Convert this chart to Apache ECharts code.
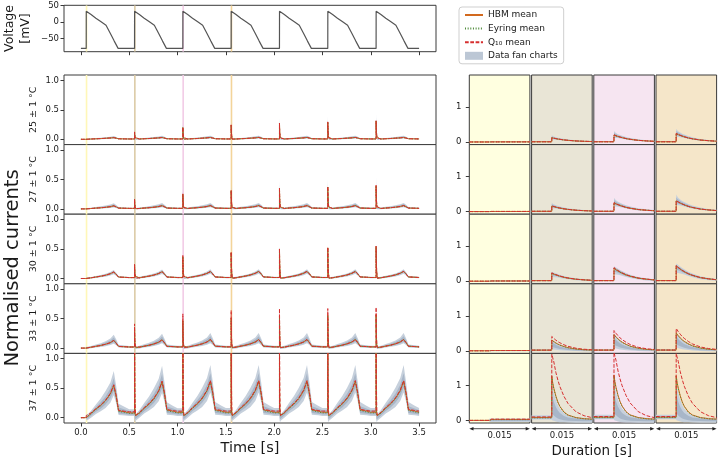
<!DOCTYPE html>
<html><head><meta charset="utf-8">
<script src="https://cdn.jsdelivr.net/npm/echarts@6/dist/echarts.min.js"></script>
<style>html,body{margin:0;padding:0;background:#fff}#c{width:720px;height:459px}</style>
</head><body><div id="c"></div>
<script>
// ================= DATA =================
const rowLabels = ['25 ± 1 °C', '27 ± 1 °C', '30 ± 1 °C', '33 ± 1 °C', '37 ± 1 °C'];
const upstrokes = [0.055, 0.555, 1.055, 1.555, 2.055, 2.555, 3.055];
const timeEnd = 3.5;
const windowPre = 0.005, windowPost = 0.010;
const windowLabels = ['0.015', '0.015', '0.015', '0.015'];
const timeTicks = [0, 0.5, 1, 1.5, 2, 2.5, 3, 3.5];
const leftYTicks = [0, 0.5, 1];
const rightYTicks = [0, 1];
const voltTicks = [-50, 0, 50];

// voltage protocol (one cycle, offsets from upstroke)
const voltOff = [0, 0.0005, 0.05, 0.1, 0.15, 0.205, 0.25, 0.29, 0.33, 0.445];
const voltVal = [-80, 32, 22, 11, 1, -10, -35, -58, -80, -80];

// offsets within one cycle (after the spike window) and inside the spike window
const cycOff = [0.012, 0.05, 0.1, 0.15, 0.2, 0.25, 0.285, 0.31, 0.335, 0.4, 0.445];
const rOff = [0, 0.0002, 0.0005, 0.001, 0.0015, 0.002, 0.003, 0.004, 0.006, 0.008, 0.010];

// ---- 25 C ----
const cycle25   = [0.003, 0.005, 0.009, 0.013, 0.018, 0.024, 0.030, 0.020, 0.009, 0.007, 0.006];
const outerHi25 = [0.012, 0.015, 0.022, 0.030, 0.038, 0.048, 0.060, 0.042, 0.020, 0.016, 0.014];
const outerLo25 = [-0.006, -0.004, -0.001, 0.002, 0.005, 0.009, 0.013, 0.008, 0.0, -0.001, -0.002];
const innerHi25 = [0.008, 0.011, 0.016, 0.022, 0.029, 0.037, 0.046, 0.032, 0.015, 0.012, 0.010];
const innerLo25 = [-0.002, 0.0, 0.003, 0.006, 0.010, 0.015, 0.020, 0.013, 0.004, 0.003, 0.002];
const peaks25   = [0.028, 0.030, 0.031, 0.031, 0.031, 0.031, 0.031];
const spikeH25  = [0.12, 0.20, 0.24, 0.27, 0.29, 0.31];
const spikeE25  = [0.12, 0.20, 0.24, 0.27, 0.29, 0.31];
const spikeQ25  = [0.125, 0.205, 0.245, 0.275, 0.295, 0.315];
// ---- 27 C ----
const cycle27   = [0.004, 0.007, 0.014, 0.020, 0.028, 0.040, 0.055, 0.036, 0.014, 0.011, 0.009];
const outerHi27 = [0.016, 0.022, 0.034, 0.046, 0.060, 0.078, 0.100, 0.070, 0.032, 0.026, 0.022];
const outerLo27 = [-0.008, -0.004, 0.001, 0.005, 0.010, 0.017, 0.026, 0.016, 0.001, -0.001, -0.003];
const innerHi27 = [0.011, 0.016, 0.026, 0.035, 0.046, 0.062, 0.080, 0.055, 0.024, 0.019, 0.016];
const innerLo27 = [-0.002, 0.001, 0.006, 0.011, 0.017, 0.026, 0.038, 0.024, 0.006, 0.004, 0.003];
const peaks27   = [0.052, 0.055, 0.056, 0.056, 0.056, 0.056, 0.056];
const spikeH27  = [0.16, 0.25, 0.31, 0.35, 0.37, 0.39];
const spikeE27  = [0.16, 0.25, 0.31, 0.35, 0.37, 0.39];
const spikeQ27  = [0.165, 0.255, 0.315, 0.36, 0.38, 0.40];
// ---- 30 C ----
const cycle30   = [0.006, 0.012, 0.026, 0.040, 0.058, 0.085, 0.115, 0.075, 0.025, 0.020, 0.016];
const outerHi30 = [0.020, 0.028, 0.045, 0.062, 0.083, 0.115, 0.152, 0.100, 0.042, 0.034, 0.028];
const outerLo30 = [-0.010, -0.002, 0.010, 0.020, 0.033, 0.053, 0.077, 0.050, 0.010, 0.007, 0.005];
const innerHi30 = [0.013, 0.021, 0.037, 0.052, 0.071, 0.100, 0.134, 0.088, 0.034, 0.027, 0.022];
const innerLo30 = [-0.002, 0.005, 0.018, 0.030, 0.045, 0.069, 0.096, 0.062, 0.017, 0.013, 0.010];
const peaks30   = [0.11, 0.115, 0.118, 0.12, 0.12, 0.12, 0.12];
const spikeH30  = [0.23, 0.37, 0.44, 0.50, 0.52, 0.54];
const spikeE30  = [0.23, 0.37, 0.44, 0.50, 0.52, 0.54];
const spikeQ30  = [0.24, 0.39, 0.45, 0.51, 0.53, 0.55];
// ---- 33 C ----
const cycle33   = [0.008, 0.016, 0.032, 0.048, 0.070, 0.100, 0.140, 0.090, 0.030, 0.025, 0.020];
const outerHi33 = [0.025, 0.038, 0.065, 0.090, 0.125, 0.175, 0.245, 0.160, 0.060, 0.048, 0.040];
const outerLo33 = [-0.015, -0.005, 0.010, 0.020, 0.035, 0.055, 0.080, 0.050, 0.010, 0.007, 0.005];
const innerHi33 = [0.016, 0.027, 0.050, 0.070, 0.100, 0.140, 0.195, 0.127, 0.045, 0.037, 0.031];
const innerLo33 = [-0.004, 0.005, 0.020, 0.033, 0.050, 0.074, 0.105, 0.068, 0.018, 0.014, 0.011];
const peaks33   = [0.13, 0.14, 0.145, 0.145, 0.145, 0.145, 0.145];
const spikeH33  = [0.31, 0.47, 0.51, 0.55, 0.56, 0.57];
const spikeE33  = [0.30, 0.46, 0.50, 0.54, 0.55, 0.56];
const spikeQ33  = [0.41, 0.58, 0.64, 0.67, 0.67, 0.69];
// ---- 37 C ----
const cycle37   = [0.030, 0.080, 0.160, 0.230, 0.320, 0.450, 0.610, 0.400, 0.130, 0.110, 0.090];
const cycleE37  = [0.025, 0.075, 0.155, 0.225, 0.315, 0.445, 0.600, 0.390, 0.120, 0.095, 0.080];
const cycleQ37  = [0.040, 0.090, 0.170, 0.240, 0.330, 0.460, 0.620, 0.420, 0.140, 0.120, 0.110];
const outerHi37 = [0.060, 0.130, 0.250, 0.360, 0.500, 0.660, 0.880, 0.600, 0.260, 0.200, 0.160];
const outerLo37 = [-0.050, 0.000, 0.070, 0.120, 0.180, 0.280, 0.420, 0.270, 0.050, 0.040, 0.030];
const innerHi37 = [0.035, 0.100, 0.200, 0.290, 0.400, 0.550, 0.740, 0.500, 0.190, 0.155, 0.125];
const innerLo37 = [-0.020, 0.035, 0.110, 0.170, 0.250, 0.360, 0.500, 0.330, 0.080, 0.065, 0.055];
const peaks37   = [0.55, 0.61, 0.62, 0.62, 0.62, 0.62, 0.62];
const spikeH37  = [1.27, 1.30, 1.28, 1.30, 1.30, 1.30];
const spikeE37  = [1.25, 1.28, 1.26, 1.28, 1.28, 1.28];
const spikeQ37  = [1.90, 1.95, 1.92, 1.95, 1.95, 1.95];

// decay of the spike inside the window (fraction of the peak above base)
const decaySlow = [1, 0.95, 0.88, 0.78, 0.69, 0.61, 0.47, 0.37, 0.22, 0.14, 0.08];
const decayH33  = [1, 0.93, 0.85, 0.72, 0.61, 0.52, 0.38, 0.27, 0.14, 0.07, 0.04];
const decayQ33  = [1, 0.94, 0.86, 0.74, 0.63, 0.55, 0.41, 0.30, 0.16, 0.09, 0.05];
const decayH37  = [1, 0.86, 0.72, 0.54, 0.40, 0.30, 0.17, 0.10, 0.04, 0.015, 0.005];
const decayQ37  = [1, 0.95, 0.88, 0.72, 0.60, 0.50, 0.35, 0.24, 0.11, 0.05, 0.02];

// data fan (inside the spike window, fraction of HBM spike amplitude)
const fanOuterHiA = [1.55, 1.40, 1.25, 1.08, 0.95, 0.85, 0.66, 0.52, 0.32, 0.20, 0.12];
const fanOuterLoA = [0.60, 0.62, 0.62, 0.60, 0.55, 0.50, 0.39, 0.30, 0.17, 0.10, 0.05];
const fanInnerHiA = [1.30, 1.20, 1.10, 0.95, 0.84, 0.75, 0.58, 0.45, 0.27, 0.17, 0.10];
const fanInnerLoA = [0.80, 0.78, 0.75, 0.69, 0.62, 0.55, 0.43, 0.34, 0.20, 0.12, 0.07];
const fanOuterHi30 = [1.12, 1.08, 1.02, 0.92, 0.83, 0.74, 0.58, 0.46, 0.28, 0.18, 0.10];
const fanOuterLo30 = [0.55, 0.56, 0.56, 0.54, 0.50, 0.46, 0.36, 0.28, 0.16, 0.09, 0.05];
const fanInnerHi30 = [1.02, 0.99, 0.94, 0.85, 0.76, 0.68, 0.53, 0.42, 0.25, 0.16, 0.09];
const fanInnerLo30 = [0.75, 0.74, 0.72, 0.67, 0.60, 0.54, 0.42, 0.33, 0.19, 0.12, 0.06];
const fanOuterHi33 = [1.00, 0.92, 0.82, 0.68, 0.57, 0.48, 0.34, 0.24, 0.12, 0.06, 0.03];
const fanOuterLo33 = [0.20, 0.20, 0.18, 0.15, 0.12, 0.10, 0.07, 0.05, 0.02, 0.01, 0.0];
const fanInnerHi33 = [0.78, 0.72, 0.64, 0.52, 0.43, 0.36, 0.25, 0.18, 0.09, 0.045, 0.02];
const fanInnerLo33 = [0.38, 0.36, 0.32, 0.27, 0.22, 0.18, 0.13, 0.09, 0.045, 0.02, 0.01];
const fanOuterHi37 = [0.80, 0.72, 0.58, 0.42, 0.30, 0.22, 0.12, 0.07, 0.03, 0.01, 0.0];
const fanOuterLo37 = [0.05, 0.04, 0.03, 0.015, 0.005, 0.0, -0.005, -0.01, -0.015, -0.015, -0.015];
const fanInnerHi37 = [0.55, 0.50, 0.40, 0.28, 0.20, 0.14, 0.075, 0.04, 0.015, 0.005, 0.0];
const fanInnerLo37 = [0.18, 0.16, 0.13, 0.09, 0.06, 0.04, 0.02, 0.01, 0.0, -0.005, -0.005];

// ================= STYLE / LAYOUT =================
const FONT = 'DejaVu Sans';
const FRAME = '#3a3a3a';
const TXT = '#1a1a1a';
const C_HBM = '#d2691e', C_EYR = '#4e8b3a', C_Q10 = '#d62f2f';
const FAN_OUT = '#c6d0dc', FAN_IN = '#a8b6c8';
const COL_BG = ['#ffffe0', '#e9e5d6', '#f6e5f1', '#f5e6c9'];
const HL = ['#fff7b8', '#dccba6', '#f2cbe6', '#f3d49a'];
const LEFT_X = 64, LEFT_W = 372;
const V_TOP = 5.3, V_H = 46.4;
const ROW_TOP = 75, ROW_H = 69.6;
const COL_X = [469.3, 531.6, 593.8, 656.0], COL_W = 60.6;
const LY = [-0.09, 1.09], RY = [-0.075, 1.92], VY = [-90, 50], LX = [-0.175, 3.675];

const rows = [
  {cH: cycle25, cE: cycle25, cQ: cycle25, oHi: outerHi25, oLo: outerLo25, iHi: innerHi25, iLo: innerLo25, pk: peaks25, sH: spikeH25, sE: spikeE25, sQ: spikeQ25, dH: decaySlow, dQ: decaySlow, fOHi: fanOuterHiA, fOLo: fanOuterLoA, fIHi: fanInnerHiA, fILo: fanInnerLoA},
  {cH: cycle27, cE: cycle27, cQ: cycle27, oHi: outerHi27, oLo: outerLo27, iHi: innerHi27, iLo: innerLo27, pk: peaks27, sH: spikeH27, sE: spikeE27, sQ: spikeQ27, dH: decaySlow, dQ: decaySlow, fOHi: fanOuterHiA, fOLo: fanOuterLoA, fIHi: fanInnerHiA, fILo: fanInnerLoA},
  {cH: cycle30, cE: cycle30, cQ: cycle30, oHi: outerHi30, oLo: outerLo30, iHi: innerHi30, iLo: innerLo30, pk: peaks30, sH: spikeH30, sE: spikeE30, sQ: spikeQ30, dH: decaySlow, dQ: decaySlow, fOHi: fanOuterHi30, fOLo: fanOuterLo30, fIHi: fanInnerHi30, fILo: fanInnerLo30},
  {cH: cycle33, cE: cycle33, cQ: cycle33, oHi: outerHi33, oLo: outerLo33, iHi: innerHi33, iLo: innerLo33, pk: peaks33, sH: spikeH33, sE: spikeE33, sQ: spikeQ33, dH: decayH33, dQ: decayQ33, fOHi: fanOuterHi33, fOLo: fanOuterLo33, fIHi: fanInnerHi33, fILo: fanInnerLo33},
  {cH: cycle37, cE: cycleE37, cQ: cycleQ37, oHi: outerHi37, oLo: outerLo37, iHi: innerHi37, iLo: innerLo37, pk: peaks37, sH: spikeH37, sE: spikeE37, sQ: spikeQ37, dH: decayH37, dQ: decayQ37, fOHi: fanOuterHi37, fOLo: fanOuterLo37, fIHi: fanInnerHi37, fILo: fanInnerLo37}
];

// ================= BUILD =================
function scaleOf(R, k) { return R.pk[k] / Math.max(...R.cH); }
function lineParts(R, cyc, spikes, decay, k) {
  const s = scaleOf(R, k);
  const base = cyc[0] * s;
  const peak = k === 0 ? base : spikes[k - 1];
  const pre = k === 0 ? 0 : cyc[cyc.length - 1] * scaleOf(R, k - 1);
  return {pre, post: decay.map(d => base + (peak - base) * d), cyc: cyc.map(v => v * s)};
}
function bandParts(R, hiC, loC, fHi, fLo, k, half) {
  const s = scaleOf(R, k);
  const baseH = R.cH[0] * s;
  const amp = (k === 0 ? baseH : R.sH[k - 1]) - baseH;
  const sp = k === 0 ? 0 : scaleOf(R, k - 1);
  const pre = k === 0 ? [-half, half] : [loC[loC.length - 1] * sp, hiC[hiC.length - 1] * sp];
  const post = fHi.map((f, i) => [loC[0] * s + amp * fLo[i], hiC[0] * s + amp * f]);
  const cyc = hiC.map((h, i) => [loC[i] * s, h * s]);
  return {pre, post, cyc};
}
function leftLine(R, cyc, spikes, decay) {
  const pts = [[0, 0]];
  upstrokes.forEach((u, k) => {
    const p = lineParts(R, cyc, spikes, decay, k);
    pts.push([u - 1e-5, p.pre]);
    rOff.forEach((o, i) => pts.push([u + o, p.post[i]]));
    cycOff.forEach((o, i) => pts.push([u + o, p.cyc[i]]));
  });
  return pts.filter(p => p[0] <= timeEnd + 1e-9);
}
function leftBand(R, hiC, loC, fHi, fLo, half) {
  const pts = [[0, -half, half]];
  upstrokes.forEach((u, k) => {
    const p = bandParts(R, hiC, loC, fHi, fLo, k, half);
    pts.push([u - 1e-5, p.pre[0], p.pre[1]]);
    rOff.forEach((o, i) => pts.push([u + o, p.post[i][0], p.post[i][1]]));
    cycOff.forEach((o, i) => pts.push([u + o, p.cyc[i][0], p.cyc[i][1]]));
  });
  return pts.filter(p => p[0] <= timeEnd + 1e-9);
}
function rightLine(R, cyc, spikes, decay, k) {
  const p = lineParts(R, cyc, spikes, decay, k);
  return [[-windowPre, p.pre], [-1e-5, p.pre]].concat(rOff.map((o, i) => [o, p.post[i]]));
}
function rightBand(R, hiC, loC, fHi, fLo, k, half) {
  const p = bandParts(R, hiC, loC, fHi, fLo, k, half);
  return [[-windowPre, p.pre[0], p.pre[1]], [-1e-5, p.pre[0], p.pre[1]]].concat(rOff.map((o, i) => [o, p.post[i][0], p.post[i][1]]));
}

function bandSeries(gi, pts, color, z) {
  return {type: 'custom', name: 'Data fan charts', coordinateSystem: 'cartesian2d', xAxisIndex: gi, yAxisIndex: gi,
    clip: true, silent: true, z, color, data: pts, encode: {x: 0, y: [1, 2]},
    renderItem: (params, api) => {
      if (params.dataIndex !== 0) return null;
      const top = pts.map(p => api.coord([p[0], p[2]]));
      const bot = pts.map(p => api.coord([p[0], p[1]])).reverse();
      return {type: 'polygon', shape: {points: top.concat(bot)}, style: {fill: color}};
    }};
}
function lineSeries(name, gi, data, color, dash, z, w) {
  return {type: 'line', name, xAxisIndex: gi, yAxisIndex: gi, data, color, symbol: 'none', showSymbol: false,
    silent: true, z, clip: true, animation: false, emphasis: {disabled: true},
    lineStyle: {color, width: w || 1, type: dash}};
}
function highlightSeries(gi, yr) {
  return {type: 'custom', coordinateSystem: 'cartesian2d', xAxisIndex: gi, yAxisIndex: gi, silent: true, z: 1, clip: true,
    data: upstrokes.slice(0, 4).map((u, i) => [u - windowPre, u + windowPost, i]),
    renderItem: (params, api) => {
      const a = api.coord([api.value(0), yr[1]]);
      const b = api.coord([api.value(1), yr[0]]);
      return {type: 'rect', shape: {x: a[0], y: a[1], width: Math.max(b[0] - a[0], 1.6), height: b[1] - a[1]},
        style: {fill: HL[api.value(2)]}};
    }};
}

const tickLabel = {fontSize: 8.5, color: TXT, fontFamily: FONT};
const noSym = {opacity: 0};
const option = {
  animation: false, backgroundColor: '#fff', textStyle: {fontFamily: FONT},
  grid: [], xAxis: [], yAxis: [], series: [],
  legend: {
    orient: 'vertical', left: 459, top: 7, itemWidth: 18, itemHeight: 8, itemGap: 3.6, itemTextGap: 7,
    padding: [3, 6, 3, 5], borderColor: '#cfcfcf', borderWidth: 1, borderRadius: 3, backgroundColor: '#fff',
    selectedMode: false, textStyle: {fontSize: 9, color: TXT, fontFamily: FONT, lineHeight: 10},
    data: [{name: 'HBM mean', itemStyle: noSym}, {name: 'Eyring mean', itemStyle: noSym}, {name: 'Q₁₀ mean', itemStyle: noSym},
      {name: 'Data fan charts', icon: 'rect', itemStyle: {color: '#bcc7d5', opacity: 1}}]
  },
  graphic: [
    {type: 'text', x: 12.5, y: 268, rotation: Math.PI / 2, silent: true,
      style: {text: 'Normalised currents', fontSize: 19.5, fill: TXT, fontFamily: FONT, align: 'center', verticalAlign: 'middle', textAlign: 'center', textVerticalAlign: 'middle'}},
    {type: 'text', x: 591.7, y: 451, silent: true,
      style: {text: 'Duration [s]', fontSize: 13.5, fill: TXT, fontFamily: FONT, align: 'center', verticalAlign: 'middle', textAlign: 'center', textVerticalAlign: 'middle'}}
  ]
};

function hiddenAxisBase() {
  return {type: 'value', axisLine: {show: false, onZero: false}, splitLine: {show: false}, nameMoveOverlap: false};
}

// voltage panel (grid 0)
option.grid.push({left: LEFT_X, top: V_TOP, width: LEFT_W, height: V_H, show: true, borderColor: FRAME, borderWidth: 1, backgroundColor: '#fff', outerBoundsMode: 'none'});
option.xAxis.push(Object.assign(hiddenAxisBase(), {gridIndex: 0, min: LX[0], max: LX[1],
  axisTick: {show: true, customValues: timeTicks, length: 3.5, lineStyle: {color: FRAME}}, axisLabel: {show: false}}));
option.yAxis.push(Object.assign(hiddenAxisBase(), {gridIndex: 0, min: VY[0], max: VY[1],
  axisTick: {show: true, customValues: voltTicks, length: 3.5, lineStyle: {color: FRAME}},
  axisLabel: Object.assign({show: true, customValues: voltTicks, margin: 5, formatter: v => String(v).replace('-', '\u2212')}, tickLabel),
  name: 'Voltage\n[mV]', nameLocation: 'middle', nameRotate: 90, nameGap: 31,
  nameTextStyle: {fontSize: 12.5, lineHeight: 15.5, color: TXT, fontFamily: FONT, align: 'center'}}));
const voltData = [[0, voltVal[0]]];
upstrokes.forEach(u => voltOff.forEach((o, i) => { if (u + o <= timeEnd + 1e-9) voltData.push([u + o, voltVal[i]]); }));
option.series.push(highlightSeries(0, VY));
option.series.push(lineSeries('Voltage', 0, voltData, '#555555', 'solid', 3, 1.2));

// left rows (grids 1..5)
rows.forEach((R, r) => {
  const gi = 1 + r;
  const last = r === rows.length - 1;
  option.grid.push({left: LEFT_X, top: ROW_TOP + r * ROW_H, width: LEFT_W, height: ROW_H, show: true, borderColor: FRAME, borderWidth: 1, backgroundColor: '#fff', outerBoundsMode: 'none'});
  option.xAxis.push(Object.assign(hiddenAxisBase(), {gridIndex: gi, min: LX[0], max: LX[1],
    axisTick: {show: last, customValues: timeTicks, length: 3.5, lineStyle: {color: FRAME}},
    axisLabel: Object.assign({show: last, customValues: timeTicks, margin: 5.5, formatter: v => v.toFixed(1)}, tickLabel),
    name: last ? 'Time [s]' : '', nameLocation: 'middle', nameGap: 18,
    nameTextStyle: {fontSize: 14.5, color: TXT, fontFamily: FONT}}));
  option.yAxis.push(Object.assign(hiddenAxisBase(), {gridIndex: gi, min: LY[0], max: LY[1],
    axisTick: {show: true, customValues: leftYTicks, length: 3.5, lineStyle: {color: FRAME}},
    axisLabel: Object.assign({show: true, customValues: leftYTicks, margin: 5, formatter: v => v.toFixed(1)}, tickLabel),
    name: rowLabels[r], nameLocation: 'middle', nameRotate: 90, nameGap: 25,
    nameTextStyle: {fontSize: 9.5, color: TXT, fontFamily: FONT}}));
  option.series.push(highlightSeries(gi, LY));
  option.series.push(bandSeries(gi, leftBand(R, R.oHi, R.oLo, R.fOHi, R.fOLo, 0.004), FAN_OUT, 2));
  option.series.push(bandSeries(gi, leftBand(R, R.iHi, R.iLo, R.fIHi, R.fILo, 0.002), FAN_IN, 2));
  option.series.push(lineSeries('HBM mean', gi, leftLine(R, R.cH, R.sH, R.dH), C_HBM, 'solid', 3));
  option.series.push(lineSeries('Eyring mean', gi, leftLine(R, R.cE, R.sE, R.dH), C_EYR, [1, 1.65], 4));
  option.series.push(lineSeries('Q₁₀ mean', gi, leftLine(R, R.cQ, R.sQ, R.dQ), C_Q10, [3.7, 1.6], 5));
});

// right panels (grids 6..25)
rows.forEach((R, r) => {
  for (let c = 0; c < 4; c++) {
    const gi = 6 + r * 4 + c;
    option.grid.push({left: COL_X[c], top: ROW_TOP + r * ROW_H, width: COL_W, height: ROW_H, show: true, borderColor: FRAME, borderWidth: 1, backgroundColor: COL_BG[c], outerBoundsMode: 'none'});
    option.xAxis.push(Object.assign(hiddenAxisBase(), {gridIndex: gi, min: -windowPre, max: windowPost,
      axisTick: {show: false}, axisLabel: {show: false}}));
    option.yAxis.push(Object.assign(hiddenAxisBase(), {gridIndex: gi, min: RY[0], max: RY[1],
      axisTick: {show: c === 0, customValues: rightYTicks, length: 3.5, lineStyle: {color: FRAME}},
      axisLabel: Object.assign({show: c === 0, customValues: rightYTicks, margin: 8, formatter: v => String(v)}, tickLabel)}));
    option.series.push(bandSeries(gi, rightBand(R, R.oHi, R.oLo, R.fOHi, R.fOLo, c, 0.004), FAN_OUT, 2));
    option.series.push(bandSeries(gi, rightBand(R, R.iHi, R.iLo, R.fIHi, R.fILo, c, 0.002), FAN_IN, 2));
    option.series.push(lineSeries('HBM mean', gi, rightLine(R, R.cH, R.sH, R.dH, c), C_HBM, 'solid', 3));
    option.series.push(lineSeries('Eyring mean', gi, rightLine(R, R.cE, R.sE, R.dH, c), C_EYR, [1, 1.65], 4));
    option.series.push(lineSeries('Q₁₀ mean', gi, rightLine(R, R.cQ, R.sQ, R.dQ, c), C_Q10, [3.7, 1.6], 5));
  }
});

const chart = echarts.init(document.getElementById('c'), null, {renderer: 'canvas'});
chart.setOption(option);

// duration arrows under the bottom row of zoom panels
const AY = 428.7;
const extra = [];
for (let c = 0; c < 4; c++) {
  const gi = 6 + (rows.length - 1) * 4 + c;
  const x0 = chart.convertToPixel({xAxisIndex: gi}, -windowPre);
  const x1 = chart.convertToPixel({xAxisIndex: gi}, windowPost);
  extra.push({type: 'line', silent: true, shape: {x1: x0 + 3, y1: AY, x2: x1 - 3, y2: AY}, style: {stroke: '#222', lineWidth: 0.8}});
  extra.push({type: 'polygon', silent: true, shape: {points: [[x0, AY], [x0 + 4.2, AY - 1.8], [x0 + 4.2, AY + 1.8]]}, style: {fill: '#222'}});
  extra.push({type: 'polygon', silent: true, shape: {points: [[x1, AY], [x1 - 4.2, AY - 1.8], [x1 - 4.2, AY + 1.8]]}, style: {fill: '#222'}});
  extra.push({type: 'text', silent: true, x: (x0 + x1) / 2, y: AY + 7.3,
    style: {text: windowLabels[c], fontSize: 8.5, fill: TXT, fontFamily: FONT, align: 'center', verticalAlign: 'middle', textAlign: 'center', textVerticalAlign: 'middle'}});
}
chart.setOption({graphic: option.graphic.concat(extra)});
</script></body></html>
